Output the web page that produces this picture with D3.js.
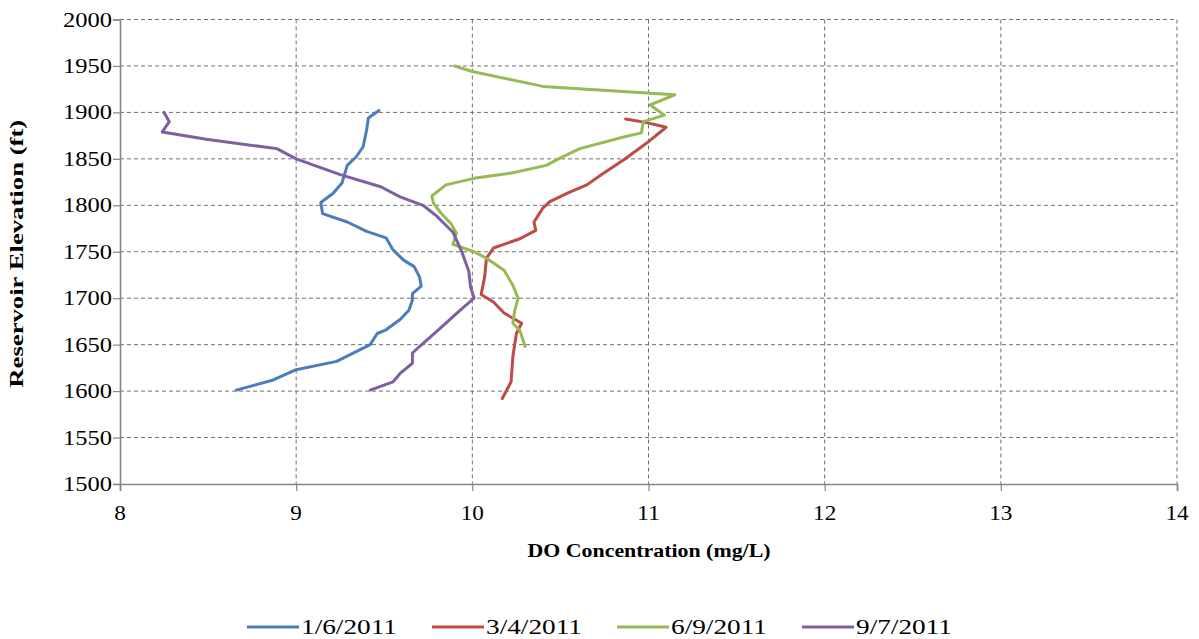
<!DOCTYPE html>
<html>
<head>
<meta charset="utf-8">
<script src="https://cdn.jsdelivr.net/npm/d3@7"></script>
<style>
  html, body { margin: 0; padding: 0; background: #fff; }
  svg { display: block; }
</style>
</head>
<body>
<svg id="chart" width="1199" height="639"></svg>
<script>
// ---- Data (DO concentration mg/L, reservoir elevation ft) ----
const seriesNames = ["1/6/2011", "3/4/2011", "6/9/2011", "9/7/2011"];
const seriesColors = ["#4a7ebb", "#be4b48", "#98b954", "#7d60a0"];

const jan_do   = [9.47, 9.41, 9.40, 9.38, 9.34, 9.29, 9.26, 9.21, 9.14, 9.15, 9.29, 9.40, 9.51, 9.55, 9.61, 9.67, 9.70, 9.71, 9.66, 9.66, 9.64, 9.59, 9.51, 9.46, 9.42, 9.23, 9.00, 8.87, 8.66];
const jan_elev = [1902, 1894, 1881, 1863, 1852, 1843, 1824, 1813, 1803, 1791, 1782, 1772, 1765, 1752, 1741, 1734, 1723, 1713, 1705, 1698, 1687, 1677, 1666, 1662, 1650, 1632, 1623, 1612, 1601];

const mar_do   = [10.87, 10.99, 11.10, 10.99, 10.86, 10.74, 10.65, 10.54, 10.44, 10.40, 10.35, 10.36, 10.27, 10.12, 10.08, 10.07, 10.05, 10.12, 10.18, 10.28, 10.25, 10.23, 10.22, 10.17];
const mar_elev = [1893, 1889, 1884, 1867, 1849, 1834, 1822, 1813, 1804, 1797, 1782, 1773, 1764, 1754, 1743, 1723, 1704, 1696, 1684, 1673, 1662, 1637, 1610, 1592];

const jun_do   = [9.90, 10.00, 10.40, 10.99, 11.15, 11.01, 11.09, 10.97, 10.96, 10.87, 10.61, 10.50, 10.42, 10.23, 10.01, 9.85, 9.77, 9.78, 9.82, 9.88, 9.91, 9.89, 10.01, 10.08, 10.18, 10.23, 10.26, 10.24, 10.23, 10.27, 10.30];
const jun_elev = [1950, 1944, 1928, 1921, 1919, 1908, 1897, 1890, 1878, 1874, 1861, 1851, 1843, 1835, 1829, 1822, 1810, 1802, 1792, 1780, 1770, 1758, 1750, 1743, 1730, 1714, 1700, 1686, 1673, 1665, 1648];

const sep_do   = [8.25, 8.28, 8.24, 8.49, 8.89, 9.00, 9.25, 9.48, 9.59, 9.72, 9.80, 9.89, 9.94, 9.98, 9.99, 10.01, 9.93, 9.82, 9.70, 9.66, 9.66, 9.59, 9.55, 9.42];
const sep_elev = [1900, 1890, 1879, 1871, 1861, 1850, 1833, 1820, 1809, 1800, 1788, 1771, 1750, 1729, 1712, 1700, 1687, 1668, 1648, 1641, 1630, 1619, 1610, 1601];

const xTicks = [8, 9, 10, 11, 12, 13, 14];
const yTicks = [1500, 1550, 1600, 1650, 1700, 1750, 1800, 1850, 1900, 1950, 2000];
const xTitle = "DO Concentration  (mg/L)";
const yTitle = "Reservoir  Elevation  (ft)";

const seriesDO = [jan_do, mar_do, jun_do, sep_do];
const seriesElev = [jan_elev, mar_elev, jun_elev, sep_elev];

// ---- Layout ----
const FONT = "'Liberation Serif', 'Times New Roman', serif";
const svg = d3.select("#chart").style("font-family", FONT);
const L = 120, R = 1177, T = 19.5, B = 484;
const x = d3.scaleLinear().domain([8, 14]).range([L, R]);
const y = d3.scaleLinear().domain([1500, 2000]).range([B, T]);

// gridlines
svg.append("g").selectAll("line").data(yTicks.filter(d => d > 1500)).join("line")
  .attr("x1", L).attr("x2", R).attr("y1", d => y(d)).attr("y2", d => y(d))
  .attr("stroke", "#6f6f6f").attr("stroke-width", 1).attr("stroke-dasharray", "4,3");
svg.append("g").selectAll("line").data(xTicks.filter(d => d > 8)).join("line")
  .attr("y1", T).attr("y2", B).attr("x1", d => x(d)).attr("x2", d => x(d))
  .attr("stroke", "#6f6f6f").attr("stroke-width", 1).attr("stroke-dasharray", "4,3");

// axes (labels drawn as plain text, positioned with the same scales)
const xAxis = svg.append("g").attr("transform", `translate(0,${B})`)
  .call(d3.axisBottom(x).tickValues(xTicks).tickSize(7).tickFormat(""));
const yAxis = svg.append("g").attr("transform", `translate(${L},0)`)
  .call(d3.axisLeft(y).tickValues(yTicks).tickSize(7).tickFormat(""));
[xAxis, yAxis].forEach(a => {
  a.select(".domain").attr("stroke", "#868686").attr("stroke-width", 1.6);
  a.selectAll(".tick line").attr("stroke", "#868686").attr("stroke-width", 1.2);
  a.selectAll(".tick text").remove();
});
svg.append("g").selectAll("text").data(xTicks).join("text")
  .style("font-family", FONT).attr("font-size", 21)
  .attr("x", d => x(d)).attr("y", B + 36).attr("text-anchor", "middle")
  .attr("textLength", d => String(d).length * 11.6).attr("lengthAdjust", "spacingAndGlyphs")
  .text(d => d);
svg.append("g").selectAll("text").data(yTicks).join("text")
  .style("font-family", FONT).attr("font-size", 21)
  .attr("x", L - 8).attr("y", d => y(d) + 7).attr("text-anchor", "end")
  .attr("textLength", 49).attr("lengthAdjust", "spacingAndGlyphs")
  .text(d => d);

// lines
const line = d3.line().x(d => x(d[0])).y(d => y(d[1]));
seriesDO.forEach((vals, i) => {
  const pts = vals.map((v, j) => [v, seriesElev[i][j]]);
  svg.append("path").datum(pts)
    .attr("d", line).attr("fill", "none")
    .attr("stroke", seriesColors[i]).attr("stroke-width", 3)
    .attr("stroke-linejoin", "round").attr("stroke-linecap", "round");
});

// axis titles
svg.append("text").attr("transform", `translate(649,557) rotate(0)`)
  .attr("text-anchor", "middle").style("font-family", FONT).attr("font-weight", "bold").attr("font-size", 19)
  .attr("textLength", 243).attr("lengthAdjust", "spacingAndGlyphs")
  .text(xTitle);
svg.append("text").attr("transform", `translate(23,${(T + B) / 2 + 2}) rotate(-90)`)
  .attr("text-anchor", "middle").style("font-family", FONT).attr("font-weight", "bold").attr("font-size", 19)
  .attr("textLength", 268).attr("lengthAdjust", "spacingAndGlyphs")
  .text(yTitle);

// legend
const legX = [247, 432, 617, 802];
const lg = svg.append("g");
seriesNames.forEach((n, i) => {
  lg.append("line").attr("x1", legX[i]).attr("x2", legX[i] + 52)
    .attr("y1", 627).attr("y2", 627)
    .attr("stroke", seriesColors[i]).attr("stroke-width", 3);
  lg.append("text").attr("transform", `translate(${legX[i] + 54},634) rotate(0)`)
    .style("font-family", FONT).attr("font-size", 22)
    .attr("textLength", 96).attr("lengthAdjust", "spacingAndGlyphs").text(n);
});
</script>
</body>
</html>
